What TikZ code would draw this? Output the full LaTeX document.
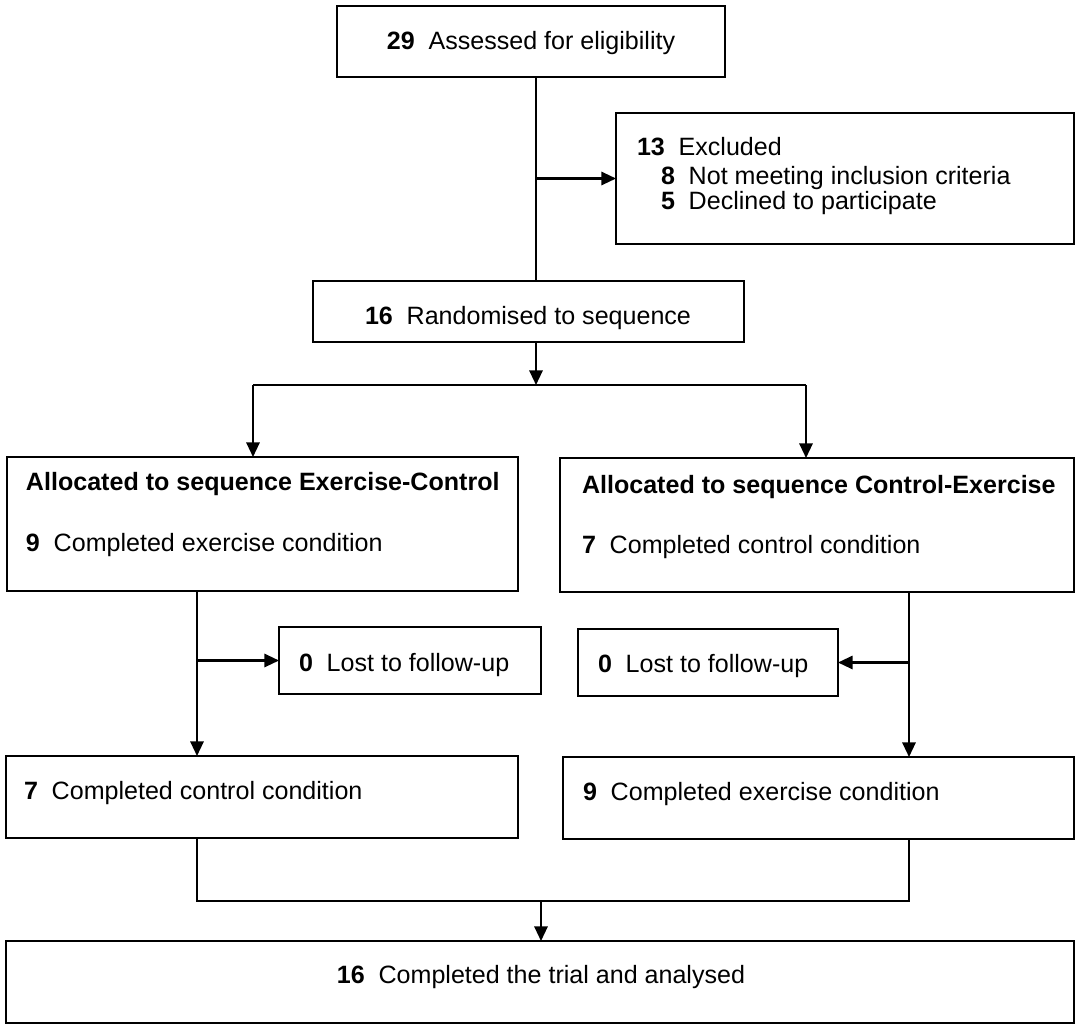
\documentclass[tikz,border=0pt]{standalone}
\usepackage{fontspec}
\setmainfont{Liberation Sans}
\usetikzlibrary{arrows.meta,fit}
\newcommand\nbr[1]{\textbf{#1}\hspace{0.55em}}
\begin{document}
\begin{tikzpicture}[x=0.75pt,y=-0.75pt,
  box/.style={draw=black,line width=1.6pt,inner sep=0pt,outer sep=0pt},
  txt/.style={inner sep=0pt,outer sep=0pt,font=\fontsize{18.8}{22}\selectfont},
  line/.style={draw=black,line width=1.6pt},
  arr/.style={line,-{Triangle[length=11pt,width=10pt]}}]
\useasboundingbox (0,0) rectangle (1080,1028);
% boxes
\node[box,fit={(337,6)(725,77)}] (A) {};
\node[box,fit={(616,113)(1074,244)}] (B) {};
\node[box,fit={(313,281)(744,342)}] (C) {};
\node[box,fit={(7,457)(518,591)}] (D) {};
\node[box,fit={(560,458)(1074,592)}] (E) {};
\node[box,fit={(279,627)(541,694)}] (LL) {};
\node[box,fit={(578,629)(838,696)}] (RL) {};
\node[box,fit={(6,756)(518,838)}] (F) {};
\node[box,fit={(563,757)(1074,839)}] (G) {};
\node[box,fit={(6,941)(1074,1023)}] (H) {};
% texts
\node[txt,anchor=base] (tA) at (531,49) {\nbr{29}Assessed for eligibility};
\node[txt,anchor=base west] (tB1) at (637,155) {\nbr{13}Excluded};
\node[txt,anchor=base west] (tB2) at (661,184) {\nbr{8}Not meeting inclusion criteria};
\node[txt,anchor=base west] (tB3) at (661,209) {\nbr{5}Declined to participate};
\node[txt,anchor=base] (tC) at (528,324) {\nbr{16}Randomised to sequence};
\node[txt,anchor=base west] (tD1) at (26,490) {\textbf{Allocated to sequence Exercise-Control}};
\node[txt,anchor=base west] (tD2) at (26,551) {\nbr{9}Completed exercise condition};
\node[txt,anchor=base west] (tE1) at (582,493) {\textbf{Allocated to sequence Control-Exercise}};
\node[txt,anchor=base west] (tE2) at (582,553) {\nbr{7}Completed control condition};
\node[txt,anchor=base west] (tLL) at (299,671) {\nbr{0}Lost to follow-up};
\node[txt,anchor=base west] (tRL) at (598,672) {\nbr{0}Lost to follow-up};
\node[txt,anchor=base west] (tF) at (24,799) {\nbr{7}Completed control condition};
\node[txt,anchor=base west] (tG) at (583,800) {\nbr{9}Completed exercise condition};
\node[txt,anchor=base] (tH) at (541,983) {\nbr{16}Completed the trial and analysed};
% connector coordinates
\coordinate (trunk) at (536,0);
\coordinate (split) at (536,385);
\coordinate (ls) at (253,385);
\coordinate (rs) at (806,385);
\coordinate (lv) at (197,0);
\coordinate (rv) at (909,0);
\coordinate (lb) at (197,901);
\coordinate (rb) at (909,901);
\coordinate (mb) at (541,901);
% connectors
\draw[line] (A.south -| trunk) -- (C.north -| trunk);
\draw[arr] (trunk |- B.west) -- (B.west);
\draw[arr] (C.south -| trunk) -- (split);
\draw[line] (ls) -- (rs);
\draw[arr] (ls) -- (D.north -| ls);
\draw[arr] (rs) -- (E.north -| rs);
\draw[arr] (D.south -| lv) -- (F.north -| lv);
\draw[arr] (lv |- LL.west) -- (LL.west);
\draw[arr] (E.south -| rv) -- (G.north -| rv);
\draw[arr] (rv |- RL.east) -- (RL.east);
\draw[line] (F.south -| lb) -- (lb) -- (rb) -- (G.south -| rb);
\draw[arr] (mb) -- (H.north -| mb);
\end{tikzpicture}
\end{document}
